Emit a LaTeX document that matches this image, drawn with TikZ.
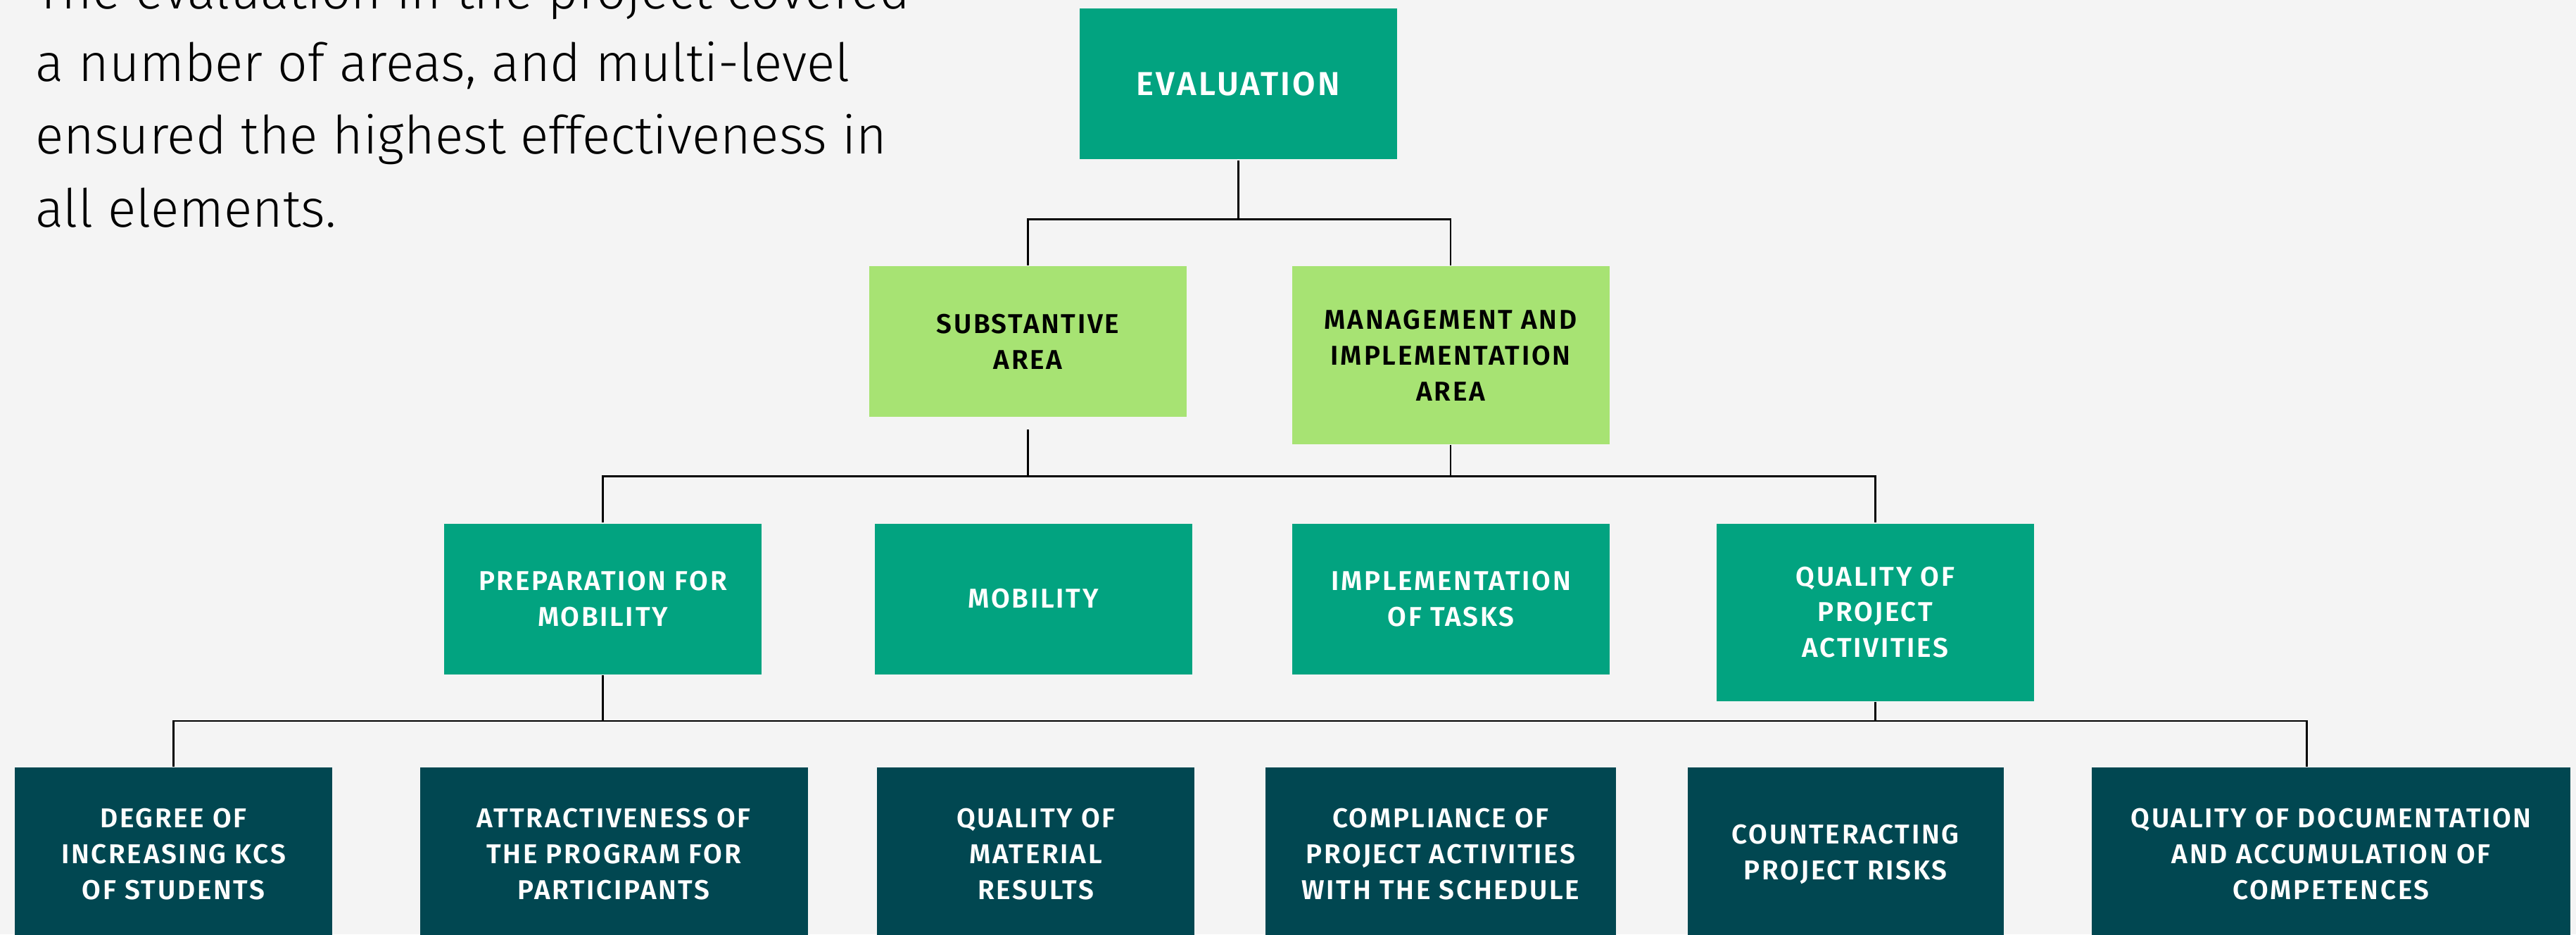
\documentclass[tikz,border=0pt]{standalone}
\usepackage{fontspec}
\setmainfont{Fira Sans}
\newfontfamily\lightfont{Fira Sans Light}
\newfontfamily\semifont{Fira Sans SemiBold}[LetterSpace=7]
\usetikzlibrary{positioning,calc}
\definecolor{evalgreen}{HTML}{02A380}
\definecolor{areagreen}{HTML}{A7E373}
\definecolor{critteal}{HTML}{014751}
\definecolor{bggray}{HTML}{F4F4F4}
\tikzstyle{box} = [rectangle, inner sep=0pt, align=center, minimum width=4.51cm,
    minimum height=2.14cm, font=\semifont\fontsize{11}{14.5}\selectfont]
\tikzstyle{top} = [box, fill=evalgreen, text=white, font=\semifont\fontsize{13.4}{16}\selectfont]
\tikzstyle{area} = [box, fill=areagreen, text=black]
\tikzstyle{aspect} = [box, fill=evalgreen, text=white]
\tikzstyle{crit} = [box, fill=critteal, text=white, minimum height=2.46cm]

\begin{document}
\begin{tikzpicture}[line width=0.75pt]
  \fill[bggray] (0,0) rectangle (36.6,-13.27);
  \useasboundingbox (0,0) rectangle (36.6,-13.27);

  \node[anchor=base west, align=left, inner sep=0pt, font=\lightfont\fontsize{21.3}{29.4}\selectfont] (0) at (0.49,-3.22)
    {The evaluation in the project covered\\a number of areas, and multi-level\\ensured the highest effectiveness in\\all elements.};

  \node[top, anchor=north] (1) at (17.595,-0.11) {EVALUATION};
  \node[area] (2) [below=1.49cm of 1.south, anchor=north, xshift=-2.99cm] {SUBSTANTIVE\\AREA};
  \node[area, minimum height=2.53cm] (3) [right=1.47cm of 2.north east, anchor=north west]
    {MANAGEMENT AND\\IMPLEMENTATION\\AREA};

  \node[aspect] (4) [below=1.49cm of 2.south west, anchor=north west, xshift=-6.04cm] {PREPARATION FOR\\MOBILITY};
  \node[aspect] (5) [right=1.58cm of 4.north east, anchor=north west] {MOBILITY};
  \node[aspect] (6) [right=1.40cm of 5.north east, anchor=north west] {IMPLEMENTATION\\OF TASKS};
  \node[aspect, minimum height=2.52cm] (7) [right=1.49cm of 6.north east, anchor=north west]
    {QUALITY OF\\PROJECT\\ACTIVITIES};

  \node[crit] (8) [below=1.30cm of 4.south west, anchor=north west, xshift=-6.10cm] {DEGREE OF\\INCREASING KCS\\OF STUDENTS};
  \node[crit, minimum width=5.51cm] (9) [right=1.22cm of 8.north east, anchor=north west]
    {ATTRACTIVENESS OF\\THE PROGRAM FOR\\PARTICIPANTS};
  \node[crit] (10) [right=0.96cm of 9.north east, anchor=north west] {QUALITY OF\\MATERIAL\\RESULTS};
  \node[crit, minimum width=4.98cm] (11) [right=0.98cm of 10.north east, anchor=north west]
    {COMPLIANCE OF\\PROJECT ACTIVITIES\\WITH THE SCHEDULE};
  \node[crit, minimum width=4.49cm] (12) [right=0.99cm of 11.north east, anchor=north west]
    {COUNTERACTING\\PROJECT RISKS};
  \node[crit, minimum width=6.80cm] (13) [right=1.23cm of 12.north east, anchor=north west]
    {QUALITY OF DOCUMENTATION\\AND ACCUMULATION OF\\COMPETENCES};

  % bus lines
  \draw (1.south) -- ++(0,-0.84) coordinate (b1);
  \draw (2.north) |- (b1) -| (3.north);

  \path (4.north) ++(0,0.66) coordinate (b2);
  \draw[shorten <=0.17cm] (2.south) -- (2.south |- b2);
  \draw (3.south) -- (3.south |- b2);
  \draw (4.north) |- (b2 -| 7.north) -- (7.north);

  \path (8.north) ++(0,0.65) coordinate (b3);
  \coordinate (13n) at ($(13.north)+(-0.35,0)$);
  \draw (4.south) -- (4.south |- b3);
  \draw (7.south) -- (7.south |- b3);
  \draw (8.north) |- (b3 -| 13n) -- (13n);
\end{tikzpicture}
\end{document}
